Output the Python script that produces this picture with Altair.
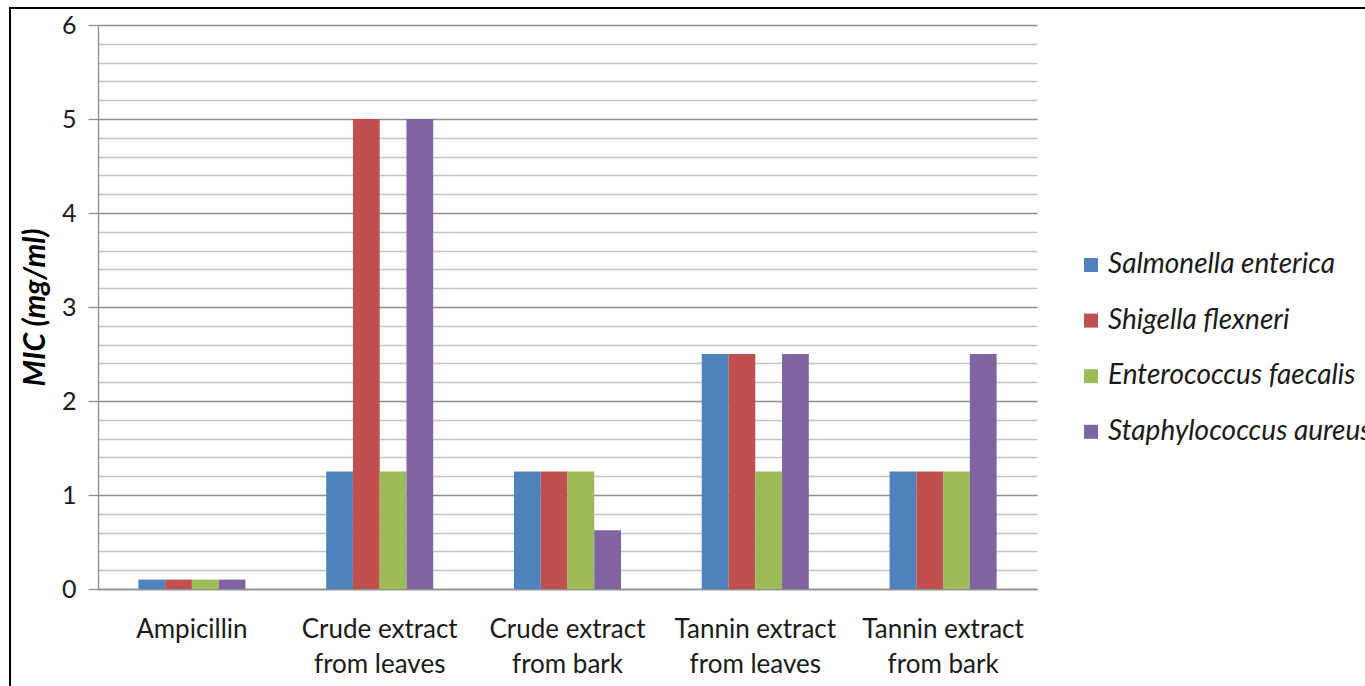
import altair as alt
import pandas as pd

categories = ["Ampicillin", "Crude extract from leaves", "Crude extract from bark",
              "Tannin extract from leaves", "Tannin extract from bark"]
series = ["Salmonella enterica", "Shigella flexneri", "Enterococcus faecalis", "Staphylococcus aureus"]
salmonella = [0.1, 1.25, 1.25, 2.5, 1.25]
shigella = [0.1, 5.0, 1.25, 2.5, 1.25]
enterococcus = [0.1, 1.25, 1.25, 1.25, 1.25]
staphylococcus = [0.1, 5.0, 0.625, 2.5, 2.5]
colors = ["#4F81BD", "#C0504D", "#9BBB59", "#8064A2"]
y_ticks = [round(i * 0.2, 1) for i in range(31)]

rows = []
for s, vals in zip(series, [salmonella, shigella, enterococcus, staphylococcus]):
    for c, v in zip(categories, vals):
        rows.append({"category": c, "series": s, "mic": v})
df = pd.DataFrame(rows)

FONT = "Lato"
MAJOR = "#8E8E8E"
MINOR = "#C4C4C4"

bars = alt.Chart(df).mark_bar().encode(
    x=alt.X("category:N", sort=categories,
            scale=alt.Scale(paddingInner=0.43, paddingOuter=0.215),
            axis=alt.Axis(title=None, labelAngle=0, ticks=False, labelPadding=27,
                          labelFontSize=26, labelFont=FONT, labelColor="#1a1a1a",
                          labelLineHeight=35, domainColor=MAJOR, domainWidth=1.5,
                          labelExpr="indexof(datum.label, ' from ') > 0 ? [slice(datum.label, 0, indexof(datum.label, ' from ')), slice(datum.label, indexof(datum.label, ' from ') + 1)] : datum.label")),
    xOffset=alt.XOffset("series:N", sort=series),
    y=alt.Y("mic:Q", scale=alt.Scale(domain=[0, 6], nice=False),
            axis=alt.Axis(title="MIC (mg/ml)", values=y_ticks, grid=True,
                          gridColor={"condition": {"test": "abs(datum.value - round(datum.value)) < 0.001", "value": MAJOR}, "value": MINOR},
                          gridWidth=1.3,
                          tickOpacity={"condition": {"test": "abs(datum.value - round(datum.value)) < 0.001", "value": 1}, "value": 0},
                          tickSize=10, tickColor=MAJOR, tickWidth=1.3,
                          labelExpr="abs(datum.value - round(datum.value)) < 0.001 ? format(datum.value, 'd') : ''",
                          labelFontSize=25, labelFont=FONT, labelColor="#1a1a1a", labelPadding=12,
                          domainColor=MAJOR, domainWidth=1.3,
                          titleFont=FONT, titleFontSize=30, titleFontWeight="bold", titleFontStyle="italic",
                          titleColor="#000000", titleX=-63, titleY=282, titleAlign="center",
                          titleBaseline="middle", titleAngle=-90)),
    color=alt.Color("series:N", sort=series, scale=alt.Scale(domain=series, range=colors),
                    legend=alt.Legend(title=None, orient="none", legendX=979, legendY=226,
                                      symbolType="square", symbolSize=196, symbolStrokeWidth=0,
                                      labelFont=FONT, labelFontSize=28, labelFontStyle="italic",
                                      labelColor="#1a1a1a", rowPadding=27.6, labelOffset=3,
                                      labelLimit=400)),
)

border = alt.Chart(alt.Data(values=[{"a": 1}])).mark_rect(
    fill=None, stroke="black", strokeWidth=2
).encode(x=alt.value(-88), x2=alt.value(1320), y=alt.value(-17), y2=alt.value(720))

chart = alt.layer(bars, border).properties(
    width=939, height=564,
    autosize=alt.AutoSizeParams(type="none"),
    padding={"left": 98, "top": 25, "right": 328, "bottom": 97},
    background="white",
).configure_view(stroke=None)

chart.save("out.html", embed_options={"renderer": "svg", "actions": False})
